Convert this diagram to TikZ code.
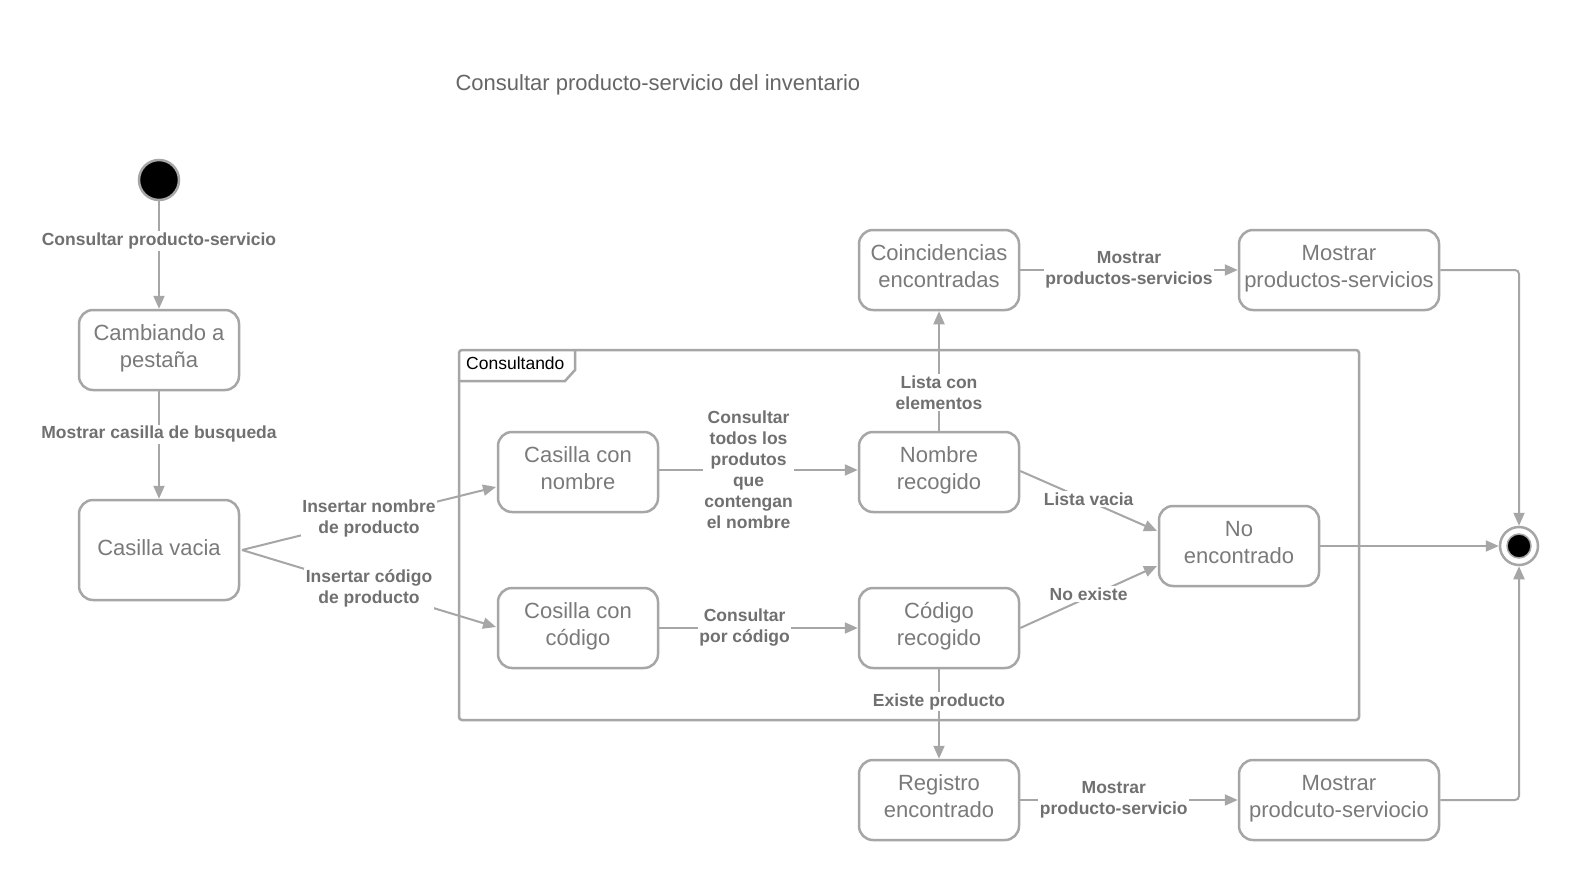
\documentclass[tikz,border=0pt]{standalone}
\usepackage{fontspec}
\setmainfont{Liberation Sans}
\usetikzlibrary{arrows.meta,positioning}
\definecolor{ln}{RGB}{166,166,166}
\definecolor{nt}{RGB}{122,122,122}
\definecolor{lt}{RGB}{112,112,112}
\definecolor{tt}{RGB}{102,102,102}
\tikzset{
  state/.style={draw=ln, line width=2.5pt, rounded corners=14pt, fill=white,
    minimum width=160pt, minimum height=80pt, inner sep=0pt, align=center,
    text=nt, font=\fontsize{22}{27}\selectfont,
    execute at begin node=\strut, execute at end node=\strut},
  conn/.style={draw=ln, line width=2pt, -{Triangle[length=13pt,width=11pt]}},
  lbl/.style={fill=white, text=lt, inner sep=1.5pt, align=center,
    font=\fontsize{17.5}{21}\selectfont\bfseries},
}
\begin{document}
\begin{tikzpicture}[x=1pt,y=-1pt]
\useasboundingbox[fill=white] (0,0) rectangle (1579,880);
% title
\node[anchor=west, text=tt, font=\fontsize{22}{27}\selectfont] (title) at (452,85) {Consultar producto-servicio del inventario};
% frame
\draw[ln, line width=2.5pt, rounded corners=3pt] (459,350) rectangle (1359,720);
\draw[ln, line width=2.5pt] (459,381) -- (565,381) -- (575,370) -- (575,350);
\node[anchor=west, text=black, inner sep=0pt, font=\fontsize{17.5}{21}\selectfont] (frametitle) at (466,363) {Consultando};
% states
\node[circle, draw=ln, fill=black, line width=2.5pt, minimum size=40pt, inner sep=0pt] (init) at (159,180) {};
\node[state] (camb) at (159,350) {Cambiando a\\pestaña};
\node[state, minimum height=100pt] (vacia) at (159,550) {Casilla vacia};
\node[state] (cnom) at (578,472) {Casilla con\\nombre};
\node[state] (ccod) at (578,628) {Cosilla con\\código};
\node[state] (nrec) at (939,472) {Nombre\\recogido};
\node[state] (crec) at (939,628) {Código\\recogido};
\node[state] (coin) at (939,270) {Coincidencias\\encontradas};
\node[state, minimum width=200pt] (mps) at (1339,270) {Mostrar\\productos-servicios};
\node[state] (noenc) at (1239,546) {No\\encontrado};
\node[state] (reg) at (939,800) {Registro\\encontrado};
\node[state, minimum width=200pt] (mpp) at (1339,800) {Mostrar\\prodcuto-serviocio};
\node[circle, draw=ln, fill=white, line width=2.5pt, minimum size=38pt, inner sep=0pt] (fin) at (1519,546) {};
\node[circle, draw=ln, fill=black, line width=1.5pt, minimum size=24pt, inner sep=0pt] (finin) at (1519,546) {};
% connectors
\draw[conn] (init) -- node[lbl, pos=0.37] {Consultar producto-servicio} (camb);
\draw[conn] (camb) -- node[lbl, pos=0.4] {Mostrar casilla de busqueda} (vacia);
\coordinate (vp) at (242,550);
\draw[conn] (vp) -- node[lbl, pos=0.5] {Insertar nombre\\de producto} (496,487) coordinate (cnomin);
\draw[conn] (vp) -- node[lbl, pos=0.5] {Insertar código\\de producto} (496,627) coordinate (ccodin);
\draw[conn] (cnom.east |- 0,470) -- node[lbl, pos=0.45] {Consultar\\todos los\\produtos\\que\\contengan\\el nombre} (nrec.west |- 0,470);
\draw[conn] (ccod) -- node[lbl, pos=0.43] {Consultar\\por código} (crec);
\draw[conn] (nrec) -- node[lbl, pos=0.32] {Lista con\\elementos} (coin);
\draw[conn] (nrec.east) ++(0,-1) -- node[lbl, pos=0.5, yshift=2pt] {Lista vacia} (1157,531);
\draw[conn] (crec.east) -- node[lbl, pos=0.5, yshift=3pt] {No existe} (1157,566);
\draw[conn] (crec) -- node[lbl, pos=0.36] {Existe producto} (reg);
\draw[conn] (coin) -- node[lbl, pos=0.5] {Mostrar\\productos-servicios} (mps);
\draw[conn] (reg) -- node[lbl, pos=0.43] {Mostrar\\producto-servicio} (mpp);
\draw[conn] (noenc) -- (fin);
\draw[conn, rounded corners=4pt] (mps.east) -| (fin.north);
\draw[conn, rounded corners=4pt] (mpp.east) -| (fin.south);
\end{tikzpicture}
\end{document}
